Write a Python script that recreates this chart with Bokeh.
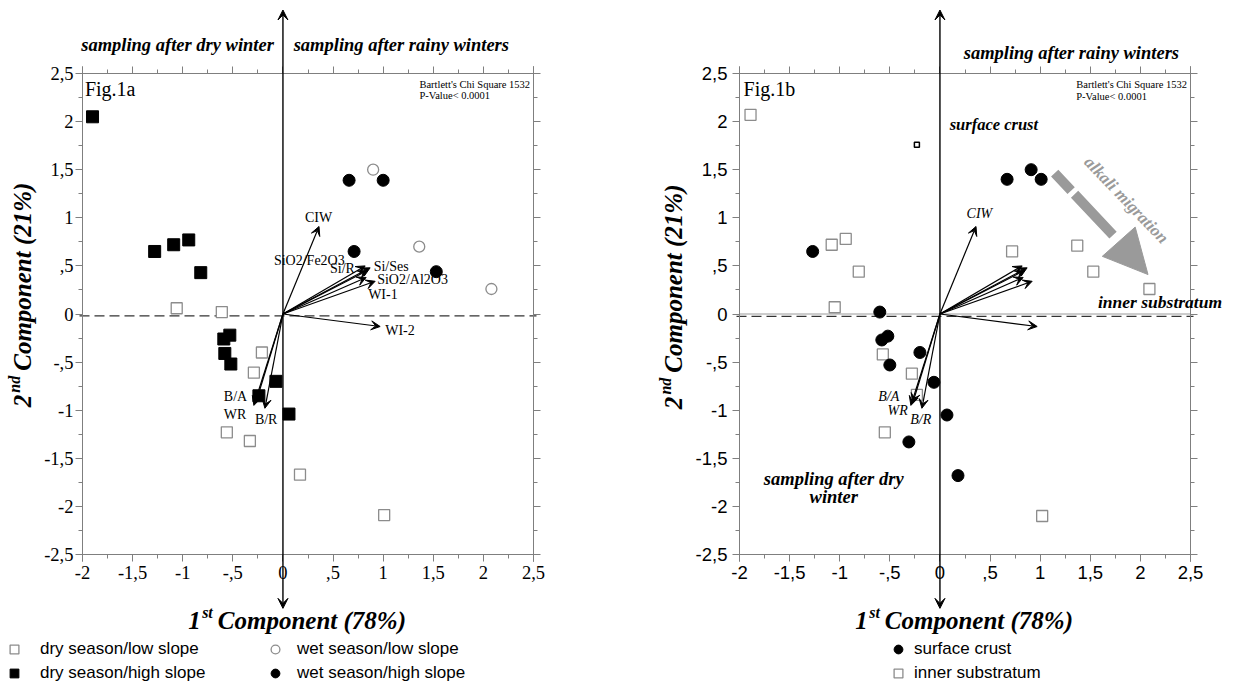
from math import pi
from bokeh.plotting import figure
from bokeh.models import (Range1d, LinearAxis, FixedTicker, CustomJSTickFormatter, Arrow,
                          VeeHead, NormalHead, Label, Legend, LegendItem)
from bokeh.layouts import row
from bokeh.embed import file_html
from bokeh.resources import INLINE

SERIF = "Liberation Serif"
SANS = "Liberation Sans"
GREY = "#8c8c8c"
FRAME = "#7f7f7f"

# ---------------- data : Fig. 1a ----------------
dry_low_x = [-1.06, -0.61, -0.21, -0.29, -0.56, -0.33, 0.17, 1.01]
dry_low_y = [0.06, 0.02, -0.40, -0.61, -1.23, -1.32, -1.67, -2.09]
dry_high_x = [-1.90, -1.28, -1.09, -0.94, -0.82, -0.59, -0.53, -0.58, -0.52, -0.07, -0.24, 0.06]
dry_high_y = [2.05, 0.65, 0.72, 0.77, 0.43, -0.26, -0.22, -0.41, -0.52, -0.70, -0.85, -1.04]
wet_low_x = [0.90, 1.36, 2.08]
wet_low_y = [1.50, 0.70, 0.26]
wet_high_x = [0.66, 1.00, 0.71, 1.53]
wet_high_y = [1.39, 1.39, 0.65, 0.44]

# ---------------- data : Fig. 1b ----------------
crust_x = [-1.27, 0.67, 0.91, 1.01, -0.60, -0.58, -0.52, -0.50, -0.20, -0.06, 0.07, -0.31, 0.18]
crust_y = [0.65, 1.40, 1.50, 1.40, 0.02, -0.27, -0.23, -0.53, -0.40, -0.71, -1.05, -1.33, -1.68]
inner_x = [-1.89, -1.08, -0.94, -0.81, -1.05, 0.72, 1.37, 1.53, 2.09, -0.57, -0.28, -0.23, -0.55, 1.02]
inner_y = [2.07, 0.72, 0.78, 0.44, 0.07, 0.65, 0.71, 0.44, 0.26, -0.42, -0.62, -0.84, -1.23, -2.10]
odd_x = [-0.23]
odd_y = [1.76]

# ---------------- loadings (vectors) ----------------
load_names = ["CIW", "SiO2/Fe2O3", "Si/R", "Si/Ses", "SiO2/Al2O3", "WI-1", "WI-2", "B/A", "WR", "B/R"]
load_x = [0.36, 0.84, 0.82, 0.87, 0.83, 0.92, 0.97, -0.29, -0.27, -0.18]
load_y = [0.91, 0.45, 0.50, 0.48, 0.38, 0.34, -0.13, -0.95, -0.92, -0.98]

# label anchors for the vectors
lab1_text = ["CIW", "SiO2/Fe2O3", "Si/R", "Si/Ses", "SiO2/Al2O3", "WI-1", "WI-2", "B/A", "WR", "B/R"]
lab1_x = [0.22, -0.09, 0.47, 0.905, 0.94, 0.85, 1.02, -0.59, -0.59, -0.28]
lab1_y = [1.00, 0.56, 0.475, 0.495, 0.357, 0.204, -0.17, -0.856, -1.046, -1.095]
lab2_text = ["CIW", "B/A", "WR", "B/R"]
lab2_x = [0.266, -0.616, -0.523, -0.296]
lab2_y = [1.04, -0.86, -1.00, -1.10]

# ---------------- axes ticks ----------------
tick_vals = [-2.5, -2.0, -1.5, -1.0, -0.5, 0.0, 0.5, 1.0, 1.5, 2.0, 2.5]
tick_text = ["-2,5", "-2", "-1,5", "-1", "-,5", "0", ",5", "1", "1,5", "2", "2,5"]
minor_vals = [-2.25, -1.75, -1.25, -0.75, -0.25, 0.25, 0.75, 1.25, 1.75, 2.25]

# ---------------- layout (pixels) ----------------
H = 682
FRAME_TOP = 73
FRAME_W, FRAME_H = 451, 481
XMIN, XMAX, YMIN, YMAX = -2.0, 2.5, -2.5, 2.5


def make_fig(width, left):
    ux = FRAME_W / (XMAX - XMIN)
    uy = FRAME_H / (YMAX - YMIN)
    xr = Range1d(XMIN - left / ux, XMAX + (width - left - FRAME_W) / ux)
    yr = Range1d(YMIN - (H - FRAME_TOP - FRAME_H) / uy, YMAX + FRAME_TOP / uy)
    p = figure(width=width, height=H, x_range=xr, y_range=yr,
               x_axis_location=None, y_axis_location=None,
               min_border=0, output_backend="svg", toolbar_location=None)
    p.grid.visible = False
    p.outline_line_color = None
    p.background_fill_color = "white"
    p.border_fill_color = "white"
    return p


def frame_axis(p, side, loc, font=None, major=None, minor=None, out_major=7, out_minor=4, bounds=None):
    ax = LinearAxis(fixed_location=loc, bounds=bounds,
                    ticker=FixedTicker(ticks=major or [], minor_ticks=minor or []))
    ax.axis_line_color = FRAME
    ax.major_tick_line_color = FRAME
    ax.minor_tick_line_color = FRAME
    ax.major_tick_in = 0
    ax.minor_tick_in = 0
    ax.major_tick_out = out_major
    ax.minor_tick_out = out_minor
    if major:
        ax.formatter = CustomJSTickFormatter(args=dict(vals=tick_vals, labs=tick_text), code="""
            for (let i = 0; i < vals.length; i++) { if (Math.abs(vals[i] - tick) < 1e-9) return labs[i]; }
            return '';
        """)
        ax.major_label_text_font = font
        ax.major_label_text_font_size = "18.5px"
        ax.major_label_text_color = "black"
    p.add_layout(ax, side)
    return ax


def lab(p, x, y, text, font=SERIF, size="14px", style="normal", align="left",
        baseline="middle", color="black", angle=0.0, xo=0, yo=0):
    p.add_layout(Label(x=x, y=y, text=text, text_font=font, text_font_size=size,
                       text_font_style=style, text_align=align, text_baseline=baseline,
                       text_color=color, angle=angle, x_offset=xo, y_offset=yo))


def decorate(p, tick_font, x_standoff, y_standoff):
    xb = (XMIN - 0.06, XMAX + 0.06)
    yb = (YMIN - 0.07, YMAX + 0.07)
    xt = [t for t in tick_vals if XMIN <= t <= XMAX]
    xm = [t for t in minor_vals if XMIN <= t <= XMAX]
    ax = frame_axis(p, "below", YMIN, tick_font, xt, xm, bounds=xb)
    ax.major_label_standoff = x_standoff
    ay = frame_axis(p, "left", XMIN, tick_font, tick_vals, minor_vals, bounds=yb)
    ay.major_label_standoff = y_standoff
    # top and right frame: long and short ticks, no labels
    frame_axis(p, "above", YMAX, minor=xt, out_minor=7, bounds=xb)
    frame_axis(p, "above", YMAX, minor=xm, out_minor=4, bounds=xb)
    frame_axis(p, "right", XMAX, minor=tick_vals, out_minor=7, bounds=yb)
    frame_axis(p, "right", XMAX, minor=minor_vals, out_minor=4, bounds=yb)
    # central axis with arrows at both ends
    p.add_layout(Arrow(x_start=0, y_start=-3.06, x_end=0, y_end=3.16, line_width=1.4,
                       start=VeeHead(size=10, fill_color="black", line_color="black"),
                       end=VeeHead(size=10, fill_color="black", line_color="black")))
    # loading vectors
    for lx, ly in zip(load_x, load_y):
        p.add_layout(Arrow(x_start=0, y_start=0, x_end=lx, y_end=ly, line_width=1.2,
                           end=VeeHead(size=9, fill_color="black", line_color="black")))


def axis_titles(p, xx, xy, yx, yy):
    big = "25px"
    lab(p, xx, xy, "Component (78%)", size=big, style="bold italic")
    lab(p, xx, xy, "st", size="16px", style="bold italic", align="right", xo=-5, yo=8)
    lab(p, xx, xy, "1", size=big, style="bold italic", align="right", xo=-17)
    lab(p, yx, yy, "Component (21%)", size=big, style="bold italic", angle=pi / 2)
    lab(p, yx, yy, "nd", size="16px", style="bold italic", align="right", angle=pi / 2, xo=-8, yo=-5)
    lab(p, yx, yy, "2", size=big, style="bold italic", align="right", angle=pi / 2, yo=-24)


def clean_legend(items, loc, standoff):
    return Legend(items=items, location=loc, orientation="vertical",
                  border_line_alpha=0, background_fill_alpha=0, padding=0, margin=0,
                  spacing=2, glyph_width=22, glyph_height=22, label_standoff=standoff,
                  label_text_font=SANS, label_text_font_size="17px", label_height=22,
                  label_text_color="black")


# ================= Fig. 1a =================
p1 = make_fig(632, 82)
decorate(p1, SERIF, 4, 2)
p1.segment(x0=[XMIN - 0.03], y0=[-0.02], x1=[XMAX + 0.03], y1=[-0.02],
           line_dash="10 5", line_width=1.4, line_color="#333333")
r_dl = p1.scatter(dry_low_x, dry_low_y, marker="square", size=11, fill_color="white", line_color=GREY, line_width=1.3)
r_dh = p1.scatter(dry_high_x, dry_high_y, marker="square", size=12, fill_color="black", line_color="black")
r_wl = p1.scatter(wet_low_x, wet_low_y, marker="circle", size=11, fill_color="white", line_color=GREY, line_width=1.3)
r_wh = p1.scatter(wet_high_x, wet_high_y, marker="circle", size=12, fill_color="black", line_color="black")

for t, x, y in zip(lab1_text, lab1_x, lab1_y):
    lab(p1, x, y, t, size="14px")
lab(p1, -0.09, 2.80, "sampling after dry winter", size="18.5px", style="bold italic", align="right")
lab(p1, 0.107, 2.80, "sampling after rainy winters", size="18.5px", style="bold italic")
lab(p1, -1.976, 2.337, "Fig.1a", size="20px")
lab(p1, 1.362, 2.39, "Bartlett's Chi Square 1532", size="10.5px")
lab(p1, 1.362, 2.27, "P-Value< 0.0001", size="10.5px")
axis_titles(p1, -0.65, -3.19, -2.60, -0.59)

p1.add_layout(clean_legend([LegendItem(label="dry season/low slope", renderers=[r_dl]),
                            LegendItem(label="dry season/high slope", renderers=[r_dh])], (3, -2), 15))
p1.add_layout(clean_legend([LegendItem(label="wet season/low slope", renderers=[r_wl]),
                            LegendItem(label="wet season/high slope", renderers=[r_wh])], (264, -2), 11))

# ================= Fig. 1b =================
p2 = make_fig(612, 107)
decorate(p2, SANS, 4, 5)
p2.segment(x0=[XMIN], y0=[0], x1=[XMAX], y1=[0], line_width=1, line_color="#9a9a9a")
p2.segment(x0=[XMIN - 0.03], y0=[-0.025], x1=[XMAX + 0.03], y1=[-0.025],
           line_dash="10 5", line_width=1.4, line_color="#333333")
r_in = p2.scatter(inner_x, inner_y, marker="square", size=11, fill_color="white", line_color=GREY, line_width=1.3)
r_cr = p2.scatter(crust_x, crust_y, marker="circle", size=12, fill_color="black", line_color="black")
p2.scatter(odd_x, odd_y, marker="square", size=5, fill_color="white", line_color="black", line_width=1.5)

for t, x, y in zip(lab2_text, lab2_x, lab2_y):
    lab(p2, x, y, t, size="14px", style="italic")
lab(p2, 0.237, 2.71, "sampling after rainy winters", size="18.5px", style="bold italic")
lab(p2, -1.96, 2.34, "Fig.1b", size="20px")
lab(p2, 1.36, 2.386, "Bartlett's Chi Square 1532", size="10.5px")
lab(p2, 1.36, 2.258, "P-Value< 0.0001", size="10.5px")
lab(p2, 0.097, 1.975, "surface crust", size="16.5px", style="bold italic")
lab(p2, 1.577, 0.12, "inner substratum", size="17.5px", style="bold italic")
lab(p2, -1.06, -1.715, "sampling after dry", size="18.5px", style="bold italic", align="center")
lab(p2, -1.06, -1.906, "winter", size="18.5px", style="bold italic", align="center")
# alkali migration arrow
p2.add_layout(Arrow(x_start=1.145, y_start=1.464, x_end=1.727, y_end=0.82, line_width=10,
                    line_color="#9a9a9a", line_dash="24 5 300", end=None))
p2.add_layout(Arrow(x_start=1.70, y_start=0.85, x_end=2.076, y_end=0.41, line_alpha=0,
                    end=NormalHead(size=44, fill_color="#9a9a9a", line_color="#9a9a9a")))
lab(p2, 1.86, 1.185, "alkali migration", size="17px", style="bold italic", align="center",
    color="#9a9a9a", angle=-0.806)
axis_titles(p2, -0.55, -3.19, -2.66, -0.61)

p2.add_layout(clean_legend([LegendItem(label="surface crust", renderers=[r_cr]),
                            LegendItem(label="inner substratum", renderers=[r_in])], (255, -2), 5))

layout = row(p1, p2)
open("out.html", "w").write(file_html(layout, INLINE))
